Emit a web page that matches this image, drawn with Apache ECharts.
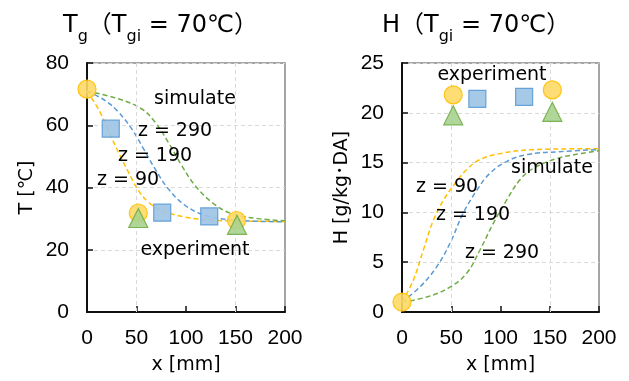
<!DOCTYPE html>
<html>
<head>
<meta charset="utf-8">
<script src="https://cdn.jsdelivr.net/npm/echarts@6/dist/echarts.min.js"></script>
<style>html,body{margin:0;padding:0;background:#fff;}#c{width:629px;height:381px;}</style>
</head>
<body>
<div id="c"></div>
<script>
// ---- data ----
const xTicks = [0, 50, 100, 150, 200];
// Temperature plot (T)
const T_sim_z90  = [[0,71],[13,64.3],[23,57.3],[31.6,51.4],[41.7,45],[51.8,39.1],[62,35.3],[75.4,32.7],[99,30.5],[132,29.4],[200,29.1]];
const T_sim_z190 = [[0,71],[18,68],[31.6,64.3],[45,58.9],[57,52.5],[68.7,46],[82,39.6],[99,34.3],[119,31.1],[149.5,29.5],[200,29]];
const T_sim_z290 = [[0,71],[31.6,68.5],[55,65.3],[68.7,61],[82,54.6],[95.6,47.1],[109,40.7],[126,35.3],[146,31.6],[173,30],[200,29.3]];
const T_exp_circle   = [[0,71.6],[51.8,31.8],[151,29.4]];
const T_exp_square   = [[24,58.9],[76,31.9],[123.5,30.7]];
const T_exp_triangle = [[51.8,30.2],[151.5,28]];
// Humidity plot (H)
const H_sim_z90  = [[0,1],[11.5,3.2],[21.6,6.2],[31.8,9.2],[42,11.2],[53.8,12.9],[65.7,14.3],[79,15.3],[99.5,15.9],[133,16.3],[200,16.4]];
const H_sim_z190 = [[0,1],[18,2.5],[35,4.5],[48.7,6.9],[62,9.9],[75.8,12.2],[89,13.9],[106,15.1],[126.6,15.8],[160,16.1],[200,16.3]];
const H_sim_z290 = [[0,1],[25,1.5],[48.7,2.5],[65.7,3.9],[79,6.2],[92.7,8.9],[106,11.2],[120,13.3],[133,14.4],[157,15.4],[181,15.9],[200,16.2]];
const H_exp_circle   = [[0,1],[52,21.8],[152.6,22.3]];
const H_exp_square   = [[76.5,21.4],[124,21.6]];
const H_exp_triangle = [[52,19.75],[152.6,20.1]];
const gridX = [50, 150];

// ---- styles ----
const FONT = 'DejaVu Sans, Noto Sans CJK JP, sans-serif';
const NUMFONT = 'Liberation Sans, Arial, sans-serif';
const C_Y = '#FFC000', C_B = '#5B9BD5', C_G = '#70AD47';

function simLine(data, color, xi, withGrid) {
  const s = {
    type: 'line', data, xAxisIndex: xi, yAxisIndex: xi, smooth: 0.4, showSymbol: false, symbol: 'none',
    lineStyle: { color, width: 1.5, type: [5, 3] }, z: 3, silent: true
  };
  if (withGrid) {
    s.markLine = {
      silent: true, symbol: ['none', 'none'], label: { show: false }, animation: false,
      lineStyle: { type: [4, 3], color: '#d9d9d9', width: 1 },
      data: gridX.map(v => ({ xAxis: v }))
    };
  }
  return s;
}
function expSeries(data, symbol, size, fill, border, xi) {
  return {
    type: 'scatter', data, xAxisIndex: xi, yAxisIndex: xi, symbol, symbolSize: size,
    itemStyle: { color: fill, borderColor: border, borderWidth: 1.2, opacity: 0.9 }, z: 5, silent: true
  };
}
function xAx(gi) {
  return {
    type: 'value', gridIndex: gi, min: 0, max: 200, interval: 50,
    name: 'x [mm]', nameLocation: 'middle', nameGap: 44,
    nameTextStyle: { fontFamily: FONT, fontSize: 19, color: '#000' },
    axisLine: { lineStyle: { color: '#111', width: 2 } },
    axisTick: { inside: true, length: 6, lineStyle: { color: '#111', width: 1.5 } },
    axisLabel: { fontFamily: NUMFONT, fontSize: 21, color: '#000', margin: 16 },
    splitLine: { show: false }
  };
}
function yAx(gi, max, interval, name) {
  return {
    type: 'value', gridIndex: gi, min: 0, max, interval,
    name, nameLocation: 'middle', nameGap: 50, nameRotate: 90,
    nameTextStyle: { fontFamily: FONT, fontSize: 19, color: '#000' },
    axisLine: { show: true, lineStyle: { color: '#111', width: 2 } },
    axisTick: { show: true, inside: true, length: 6, lineStyle: { color: '#111', width: 1.5 } },
    axisLabel: { fontFamily: NUMFONT, fontSize: 21, color: '#000', margin: 18 },
    splitLine: { show: true, lineStyle: { type: [4, 3], color: '#d9d9d9', width: 1 } }
  };
}
function titleRich(main1, sub1, main2, sub2, main3, left) {
  return {
    text: '{m|' + main1 + '}' + (sub1 ? '{s|' + sub1 + '}' : '') + '{m|' + main2 + '}{s|' + sub2 + '}{m|' + main3 + '}',
    left, top: 7, padding: 0,
    textStyle: {
      fontWeight: 'normal',
      rich: {
        m: { fontFamily: FONT, fontSize: 24, fontWeight: 'normal', color: '#000', lineHeight: 38, verticalAlign: 'middle' },
        s: { fontFamily: FONT, fontSize: 16, fontWeight: 'normal', color: '#000', lineHeight: 16, verticalAlign: 'bottom' }
      }
    }
  };
}
function txt(x, y, t) {
  return { type: 'text', x, y, silent: true, z: 10,
    style: { text: t, fontFamily: FONT, fontSize: 19, fill: '#000', align: 'center', verticalAlign: 'middle' } };
}

const chart = echarts.init(document.getElementById('c'), null, { renderer: 'canvas' });
chart.setOption({
  animation: false,
  backgroundColor: '#fff',
  title: [
    titleRich('T', 'g', '（T', 'gi', ' = 70℃）', 63),
    titleRich('H', '', '（T', 'gi', ' = 70℃）', 382)
  ],
  grid: [
    { left: 87, top: 63, width: 198, bottom: 69, show: true, borderColor: '#888', borderWidth: 1.5, backgroundColor: 'transparent' },
    { left: 402, top: 63, width: 197, bottom: 69, show: true, borderColor: '#888', borderWidth: 1.5, backgroundColor: 'transparent' }
  ],
  xAxis: [xAx(0), xAx(1)],
  yAxis: [yAx(0, 80, 20, 'T [℃]'), yAx(1, 25, 5, 'H [g/kg･DA]')],
  series: [
    simLine(T_sim_z90, C_Y, 0, true),
    simLine(T_sim_z190, C_B, 0, false),
    simLine(T_sim_z290, C_G, 0, false),
    expSeries(T_exp_circle, 'circle', 18, '#FFD966', C_Y, 0),
    expSeries(T_exp_square, 'rect', 17, '#9DC3E6', C_B, 0),
    expSeries(T_exp_triangle, 'triangle', [19, 19], '#A9D18E', C_G, 0),
    simLine(H_sim_z90, C_Y, 1, true),
    simLine(H_sim_z190, C_B, 1, false),
    simLine(H_sim_z290, C_G, 1, false),
    expSeries(H_exp_circle, 'circle', 18, '#FFD966', C_Y, 1),
    expSeries(H_exp_square, 'rect', 17, '#9DC3E6', C_B, 1),
    expSeries(H_exp_triangle, 'triangle', [19, 19], '#A9D18E', C_G, 1)
  ],
  graphic: [
    txt(195, 99, 'simulate'),
    txt(175, 131, 'z = 290'),
    txt(155, 156, 'z = 190'),
    txt(128, 180, 'z = 90'),
    txt(195, 250, 'experiment'),
    txt(492, 75, 'experiment'),
    txt(552, 168, 'simulate'),
    txt(447, 187, 'z = 90'),
    txt(473, 215, 'z = 190'),
    txt(502, 253, 'z = 290')
  ]
});
</script>
</body>
</html>
